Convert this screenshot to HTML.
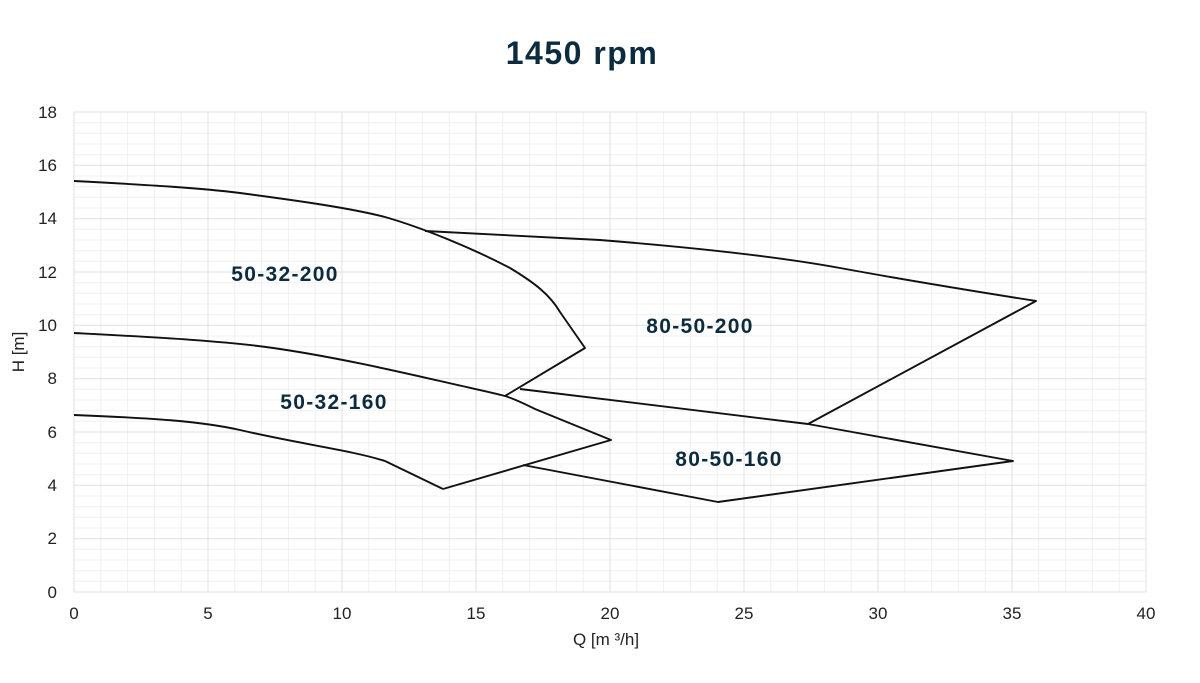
<!DOCTYPE html>
<html><head><meta charset="utf-8"><style>
body{margin:0;background:#fff;width:1200px;height:678px;overflow:hidden}
</style></head><body>
<svg width="1200" height="678" xmlns="http://www.w3.org/2000/svg" font-family="Liberation Sans, sans-serif">
<g stroke="#f1f1f1" stroke-width="1">
<path d="M100.8 112V592M127.6 112V592M154.4 112V592M181.2 112V592M234.8 112V592M261.6 112V592M288.4 112V592M315.2 112V592M368.8 112V592M395.6 112V592M422.4 112V592M449.2 112V592M502.8 112V592M529.6 112V592M556.4 112V592M583.2 112V592M636.8 112V592M663.6 112V592M690.4 112V592M717.2 112V592M770.8 112V592M797.6 112V592M824.4 112V592M851.2 112V592M904.8 112V592M931.6 112V592M958.4 112V592M985.2 112V592M1038.8 112V592M1065.6 112V592M1092.4 112V592M1119.2 112V592"/>
<path d="M74 122.7H1146M74 133.3H1146M74 144H1146M74 154.7H1146M74 176H1146M74 186.7H1146M74 197.3H1146M74 208H1146M74 229.3H1146M74 240H1146M74 250.7H1146M74 261.3H1146M74 282.7H1146M74 293.3H1146M74 304H1146M74 314.7H1146M74 336H1146M74 346.7H1146M74 357.3H1146M74 368H1146M74 389.3H1146M74 400H1146M74 410.7H1146M74 421.3H1146M74 442.7H1146M74 453.3H1146M74 464H1146M74 474.7H1146M74 496H1146M74 506.7H1146M74 517.3H1146M74 528H1146M74 549.3H1146M74 560H1146M74 570.7H1146M74 581.3H1146"/>
</g>
<g stroke="#e0e0e0" stroke-width="1">
<path d="M74 112V592M208 112V592M342 112V592M476 112V592M610 112V592M744 112V592M878 112V592M1012 112V592M1146 112V592"/>
<path d="M74 112H1146M74 165.3H1146M74 218.7H1146M74 272H1146M74 325.3H1146M74 378.7H1146M74 432H1146M74 485.3H1146M74 538.7H1146M74 592H1146"/>
</g>
<g fill="none" stroke="#111" stroke-width="1.9" stroke-linejoin="round">
<path d="M74 181 C150 185 200 188 240 193 C300 201 350 208 385 217 C420 227 470 247 510 268 C535 283 550 295 560 312 L585 348 L505 396"/>
<path d="M425 231 L600 240 C700 248 780 257 840 268 C900 279 960 289 1036 301 L808 424"/>
<path d="M74 333 C150 337 230 341 280 349 C340 358 400 372 440 381 C470 388 490 392 505 396 C515 399 525 404 535 409 L611 440 L443 489"/>
<path d="M74 415 C150 418 200 421 240 430 C300 444 350 450 385 461 L443 489"/>
<path d="M520 389 L808 424 L1013 461 L718 502 L523 465"/>
</g>
<g fill="#0d2b3e" font-weight="bold" font-size="21" letter-spacing="1.3" text-anchor="middle">
<text x="285" y="281">50-32-200</text>
<text x="700" y="333">80-50-200</text>
<text x="334" y="409">50-32-160</text>
<text x="729" y="466">80-50-160</text>
<text x="582" y="64" font-size="32" letter-spacing="1.5">1450 rpm</text>
</g>
<g fill="#222" font-size="17" text-anchor="end">
<text x="57" y="118">18</text><text x="57" y="171">16</text><text x="57" y="224">14</text><text x="57" y="278">12</text><text x="57" y="331">10</text><text x="57" y="384">8</text><text x="57" y="438">6</text><text x="57" y="491">4</text><text x="57" y="544">2</text><text x="57" y="598">0</text>
</g>
<g fill="#222" font-size="17" text-anchor="middle">
<text x="74" y="619">0</text><text x="208" y="619">5</text><text x="342" y="619">10</text><text x="476" y="619">15</text><text x="610" y="619">20</text><text x="744" y="619">25</text><text x="878" y="619">30</text><text x="1012" y="619">35</text><text x="1146" y="619">40</text>
<text x="606" y="645">Q [m ³/h]</text>
<text transform="translate(24 352) rotate(-90)">H [m]</text>
</g>
</svg>
</body></html>
